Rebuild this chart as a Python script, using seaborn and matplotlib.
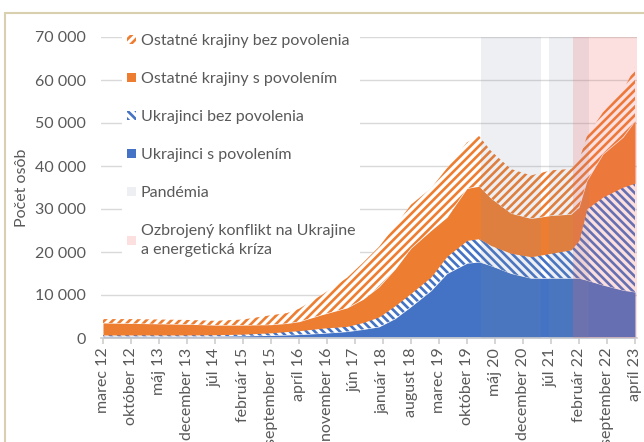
import matplotlib
matplotlib.use('Agg')
import matplotlib.pyplot as plt
from matplotlib.patches import Patch, Rectangle
from matplotlib.ticker import FuncFormatter
import numpy as np
import pandas as pd
import seaborn as sns

# ------------------------------------------------------------------
# Data (values in persons; x = months since 03/2012)
# ------------------------------------------------------------------
mesiac_idx = [0, 7, 14, 21, 28, 35, 42, 46, 49, 55, 61, 65, 69, 73, 77,
              82, 86, 91, 94, 97, 102, 107, 112, 117, 119, 121, 125, 130, 133]

ukr_s_povolenim = [400, 400, 400, 400, 400, 500, 600, 700, 800, 1100, 1500,
                   2000, 2600, 4500, 7300, 11000, 15000, 17400, 17700, 16800,
                   15000, 13900, 13900, 13900, 13900, 13400, 12300, 11100, 10700]
ukr_bez_povolenia = [300, 300, 300, 300, 350, 400, 600, 800, 900, 1200, 1200,
                     1600, 2300, 3000, 3100, 3200, 4000, 5300, 5400, 4700,
                     4700, 5000, 5800, 6600, 8800, 16700, 20500, 24000, 25300]
ost_s_povolenim = [2800, 2700, 2600, 2500, 2250, 2100, 1900, 1900, 2100, 3200,
                   4300, 5400, 7000, 8500, 10500, 10800, 9100, 12100, 12200,
                   11000, 9300, 8900, 8800, 8300, 7700, 6500, 10000, 11600, 14500]
ost_bez_povolenia = [900, 1000, 1000, 1000, 1000, 1300, 2200, 2400, 3000, 4700,
                     7000, 8500, 9300, 10000, 10100, 9800, 11400, 10700, 11700,
                     11000, 10300, 10000, 10500, 10500, 10900, 10400, 9700,
                     10800, 12500]

tick_labels = ['marec 12', 'október 12', 'máj 13', 'december 13', 'júl 14',
               'február 15', 'september 15', 'apríl 16', 'november 16',
               'jún 17', 'január 18', 'august 18', 'marec 19', 'október 19',
               'máj 20', 'december 20', 'júl 21', 'február 22',
               'september 22', 'apríl 23']
tick_pos = list(range(0, 134, 7))

# shaded periods (month index ranges)
pandemia = [(94.5, 109.5), (111.5, 121.5)]
konflikt = [(117.5, 133.5)]

# ------------------------------------------------------------------
# Style
# ------------------------------------------------------------------
sns.set_theme(style='white')
plt.rcParams['font.family'] = ['Lato', 'DejaVu Sans']
plt.rcParams['hatch.linewidth'] = 1.9

BLUE   = '#4472C4'
ORANGE = '#ED7D31'
GREY   = '#595959'
PAND   = '#7a8aa0'
WAR    = '#f26666'
HATCH_B = '\\\\\\\\'
HATCH_O = '////'

df = pd.DataFrame({
    'x': mesiac_idx,
    'ukr_s': ukr_s_povolenim,
    'ukr_bez': ukr_bez_povolenia,
    'ost_s': ost_s_povolenim,
    'ost_bez': ost_bez_povolenia,
})
l1 = df['ukr_s'].to_numpy()
l2 = l1 + df['ukr_bez'].to_numpy()
l3 = l2 + df['ost_s'].to_numpy()
l4 = l3 + df['ost_bez'].to_numpy()

fig = plt.figure(figsize=(6.44, 4.42), dpi=100)
ax = fig.add_axes([101 / 644, 1 - 338 / 442, 536 / 644, 301 / 442])

ax.fill_between(df['x'], 0, l1, facecolor=BLUE, linewidth=0, zorder=2)
ax.fill_between(df['x'], l1, l2, facecolor='white', edgecolor=BLUE,
                hatch=HATCH_B, linewidth=0, zorder=2)
ax.fill_between(df['x'], l2, l3, facecolor=ORANGE, linewidth=0, zorder=2)
ax.fill_between(df['x'], l3, l4, facecolor='white', edgecolor=ORANGE,
                hatch=HATCH_O, linewidth=0, zorder=2)

# period overlays
for a, b in pandemia:
    ax.axvspan(a, b, color=PAND, alpha=0.13, linewidth=0, zorder=3)
for a, b in konflikt:
    ax.axvspan(a, b, color=WAR, alpha=0.2, linewidth=0, zorder=3)

ax.set_xlim(-0.5, 133.5)
ax.set_ylim(0, 70000)
ax.set_yticks(range(0, 70001, 10000))
ax.yaxis.set_major_formatter(FuncFormatter(lambda v, p: f'{int(v):,}'.replace(',', ' ')))
ax.set_xticks(tick_pos)
ax.set_xticklabels(tick_labels, rotation=90)

ax.grid(axis='y', color='#d9d9d9', linewidth=1, zorder=0)
ax.set_axisbelow(True)
sns.despine(ax=ax, left=True, top=True, right=True)
ax.spines['bottom'].set_color('#d0d0d0')
ax.tick_params(axis='x', length=4, color='#d0d0d0', colors=GREY,
               labelsize=11.5, pad=3, bottom=True)
ax.tick_params(axis='y', length=0, colors=GREY, labelsize=11.5, pad=11)
ax.set_ylabel('Počet osôb', color=GREY, fontsize=11.5, labelpad=4)

handles = [
    Patch(facecolor='white', edgecolor=ORANGE, hatch=HATCH_O, linewidth=0),
    Patch(facecolor=ORANGE, linewidth=0),
    Patch(facecolor='white', edgecolor=BLUE, hatch=HATCH_B, linewidth=0),
    Patch(facecolor=BLUE, linewidth=0),
    Patch(facecolor=PAND, alpha=0.13, linewidth=0),
    Patch(facecolor=WAR, alpha=0.2, linewidth=0),
]
labels = ['Ostatné krajiny bez povolenia', 'Ostatné krajiny s povolením',
          'Ukrajinci bez povolenia', 'Ukrajinci s povolením', 'Pandémia',
          'Ozbrojený konflikt na Ukrajine\na energetická kríza']
leg = ax.legend(handles, labels, loc='upper left', bbox_to_anchor=(0.04, 1.025),
                frameon=True, facecolor='white', edgecolor='none', framealpha=1,
                fontsize=11.5, labelspacing=1.5, handlelength=0.55,
                handleheight=0.55, handletextpad=0.3, borderpad=0.3,
                borderaxespad=0, labelcolor=GREY)
for t in leg.get_texts():
    t.set_linespacing(1.45)
leg.set_zorder(5)

# outer frame of the original figure box
fig.patches.append(Rectangle((5 / 644, -0.1), 1.2, 1.1 - 13 / 442,
                             transform=fig.transFigure, fill=False,
                             edgecolor='#d8d0ae', linewidth=1.5))

fig.savefig('out.png', dpi=100)
